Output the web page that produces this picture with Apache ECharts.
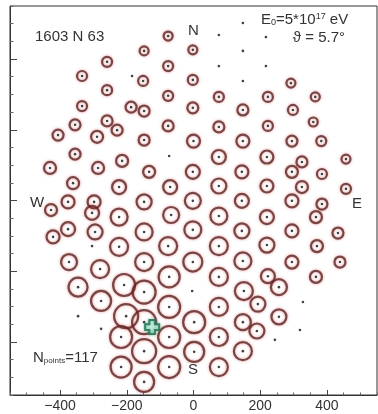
<!DOCTYPE html>
<html>
<head>
<meta charset="utf-8">
<script src="https://cdn.jsdelivr.net/npm/echarts@6/dist/echarts.min.js"></script>
<style>
html,body{margin:0;padding:0;background:#fff;}
#chart{width:378px;height:414px;}
</style>
</head>
<body>
<div id="chart"></div>
<script>
// Detector positions (m) and ring amplitude (signal); amplitude 0 = no signal (dot only)
var detX = [-406,-430,-427,-421,
 -334,-334,-355,-355,-361,-376,-376,-373,-346,-346,
 -259,-259,-259,-289,-229,-286,-298,-304,-295,-304,-280,-277,-277,
 -214,-223,-223,-223,-208,-202,-217,-217,
 -184,-187,-148,-151,-148,-148,-133,-148,-148,-148,-148,-148,-148,-148,
 -76,-76,-76,-76,-73,-70,-67,-76,-73,-73,-73,-73,
 -2,-2,-2,0,-2,-2,-2,-2,-4,2,2,
 76,76,76,76,76,76,76,76,76,76,76,76,
 148,148,148,148,148,145,145,145,148,151,148,148,
 193,190,217,217,223,223,220,220,220,220,223,256,256,244,
 292,298,295,295,295,295,295,325,325,328,319,
 365,359,383,385,385,367,370,367,
 457,457,433,439];
var detY = [185,92,-27,-103,
 352,267,214,131,49,-4,-81,-174,-245,-327,
 392,312,225,180,199,92,-4,-35,-89,-129,-194,-284,-363,
 112,38,-47,-131,-239,-327,-386,-471,
 352,264,423,338,253,171,81,-4,-89,-174,-259,-344,-426,-513,
 465,380,296,211,126,38,-41,-129,-216,-301,-386,-471,
 426,341,262,168,81,-1,-83,-174,-256,-344,-428,
 468,380,293,208,123,41,-44,-129,-216,-301,-386,-471,
 502,423,338,256,168,81,-1,-86,-171,-256,-344,-426,
 -293,-369,462,380,293,211,123,41,-47,-126,-214,-245,-329,-394,
 332,256,168,81,-1,-86,-174,109,38,-287,-366,
 293,222,168,75,-10,-47,-129,-216,
 117,33,-92,-174];
var amp = [6.5,7,7,7.5,
 6,6,6.5,6.5,7,7.5,8,9,10.5,0,
 6,6,6.5,7,6.5,7,7.5,8,8.5,0,10,11,0,
 7,8,9.5,10,12,13,12,11.5,
 0,6.5,5.5,6,6.5,6.5,7,8.5,9.5,10,12.5,13,13,11,
 5.5,6,6,6.5,0,8,9,10,11.5,12,12,12,
 5.5,6,6.5,7.5,8,9,9.5,10.5,0,12,11,
 0,0,6,6.5,8,8.5,9.5,10,10,10,10,10,
 0,0,0,6.5,7.5,7.5,8,8.5,9.5,10,9,10,
 8.5,8.5,0,0,6,6,7.5,7.5,8,8.5,8,9,8.5,0,
 5.5,6,6.5,7,7.5,7.5,7.5,6.5,7,0,0,
 5.5,5.5,6,6,6.5,7,7,7,
 5.5,6,6.5,6.5];
// Shower core
var coreX = [-124];
var coreY = [-358];
// Axis ticks
var xMajor = [-400,-200,0,200,400];
var xMinor = [-550,-500,-450,-350,-300,-250,-150,-100,-50,50,100,150,250,300,350,450,500,550];
var yMajor = [-400,-200,0,200,400];
var yMinor = [-550,-500,-450,-350,-300,-250,-150,-100,-50,50,100,150,250,300,350,450,500,550];

var ringData = [], dotData = [];
for (var i = 0; i < detX.length; i++) {
  dotData.push([detX[i], detY[i]]);
  if (amp[i] > 0) ringData.push([detX[i], detY[i], amp[i]]);
}
var coreData = coreX.map(function (x, i) { return [x, coreY[i]]; });

var chart = echarts.init(document.getElementById('chart'), null, {renderer: 'canvas'});
var FONT = '"Liberation Sans", Arial, sans-serif';
chart.setOption({
  animation: false,
  backgroundColor: '#fff',
  grid: {left: 10, right: 1, top: 6, bottom: 19, show: true, borderColor: '#333', borderWidth: 1, backgroundColor: 'transparent'},
  xAxis: [{
    type: 'value', min: -550, max: 550, position: 'bottom',
    axisLine: {show: true, onZero: false, lineStyle: {color: '#333', width: 1}},
    splitLine: {show: false},
    axisTick: {show: true, inside: true, length: 5, customValues: xMajor, lineStyle: {color: '#444'}},
    axisLabel: {show: true, customValues: xMajor, margin: 4, fontSize: 14, color: '#333', fontFamily: FONT,
      formatter: function (v) { return String(v).replace('-', '\u2212'); }}
  }, {
    type: 'value', min: -550, max: 550, position: 'bottom',
    axisLine: {show: false, onZero: false}, splitLine: {show: false},
    axisTick: {show: true, inside: true, length: 2.5, customValues: xMinor, lineStyle: {color: '#666'}},
    axisLabel: {show: false}
  }],
  yAxis: [{
    type: 'value', min: -550, max: 550, position: 'left',
    axisLine: {show: true, onZero: false, lineStyle: {color: '#333', width: 1}},
    splitLine: {show: false},
    axisTick: {show: true, inside: true, length: 7, customValues: yMajor, lineStyle: {color: '#444'}},
    axisLabel: {show: false}
  }, {
    type: 'value', min: -550, max: 550, position: 'left',
    axisLine: {show: false, onZero: false}, splitLine: {show: false},
    axisTick: {show: true, inside: true, length: 3.5, customValues: yMinor, lineStyle: {color: '#666'}},
    axisLabel: {show: false}
  }],
  series: [{
    type: 'scatter', xAxisIndex: 0, yAxisIndex: 0, silent: true,
    data: ringData,
    symbol: 'circle',
    symbolSize: function (v) { return 2 * v[2] - 2; },
    itemStyle: {color: 'rgba(255,255,255,0)', borderColor: '#5a2424', borderWidth: 2.2,
      shadowBlur: 3, shadowColor: 'rgba(200,40,40,0.6)'},
    z: 2
  }, {
    type: 'scatter', xAxisIndex: 0, yAxisIndex: 0, silent: true,
    data: dotData, symbol: 'circle', symbolSize: 2.6,
    itemStyle: {color: '#111'}, z: 3
  }, {
    type: 'scatter', xAxisIndex: 0, yAxisIndex: 0, silent: true,
    data: coreData,
    symbol: 'path://M3,0L7,0L7,3L10,3L10,7L7,7L7,10L3,10L3,7L0,7L0,3L3,3Z',
    symbolSize: 14,
    itemStyle: {color: '#d6f7ef', borderColor: '#1f6e50', borderWidth: 2,
      shadowBlur: 3, shadowColor: 'rgba(40,160,110,0.7)'},
    z: 4
  }],
  graphic: [
    {type: 'text', left: 35, top: 29, style: {text: '1603 N 63', font: '15px ' + FONT, fill: '#333'}},
    {type: 'text', left: 188, top: 23, style: {text: 'N', font: '15px ' + FONT, fill: '#333'}},
    {type: 'text', left: 188, top: 362, style: {text: 'S', font: '15px ' + FONT, fill: '#333'}},
    {type: 'text', left: 30, top: 195, style: {text: 'W', font: '15px ' + FONT, fill: '#333'}},
    {type: 'text', left: 352, top: 196, style: {text: 'E', font: '15px ' + FONT, fill: '#333'}},
    {type: 'text', left: 261, top: 12, style: {
      text: 'E{sub|0}=5*10{sup|17} eV', font: '15px ' + FONT, fill: '#333',
      rich: {sub: {fontSize: 9, fontFamily: FONT, fill: '#333', verticalAlign: 'bottom', padding: [6, 0, 0, 0]},
             sup: {fontSize: 9, fontFamily: FONT, fill: '#333', verticalAlign: 'top', padding: [0, 0, 6, 0]}}
    }},
    {type: 'text', right: 33, top: 30, style: {text: '\u03D1 = 5.7\u00B0', font: '15px ' + FONT, fill: '#333'}},
    {type: 'text', left: 33, top: 350, style: {
      text: 'N{sub|points}=117', font: '15px ' + FONT, fill: '#333',
      rich: {sub: {fontSize: 8, fontFamily: FONT, fill: '#333', verticalAlign: 'bottom', padding: [6, 0, 0, 0]}}
    }}
  ]
});
</script>
</body>
</html>
